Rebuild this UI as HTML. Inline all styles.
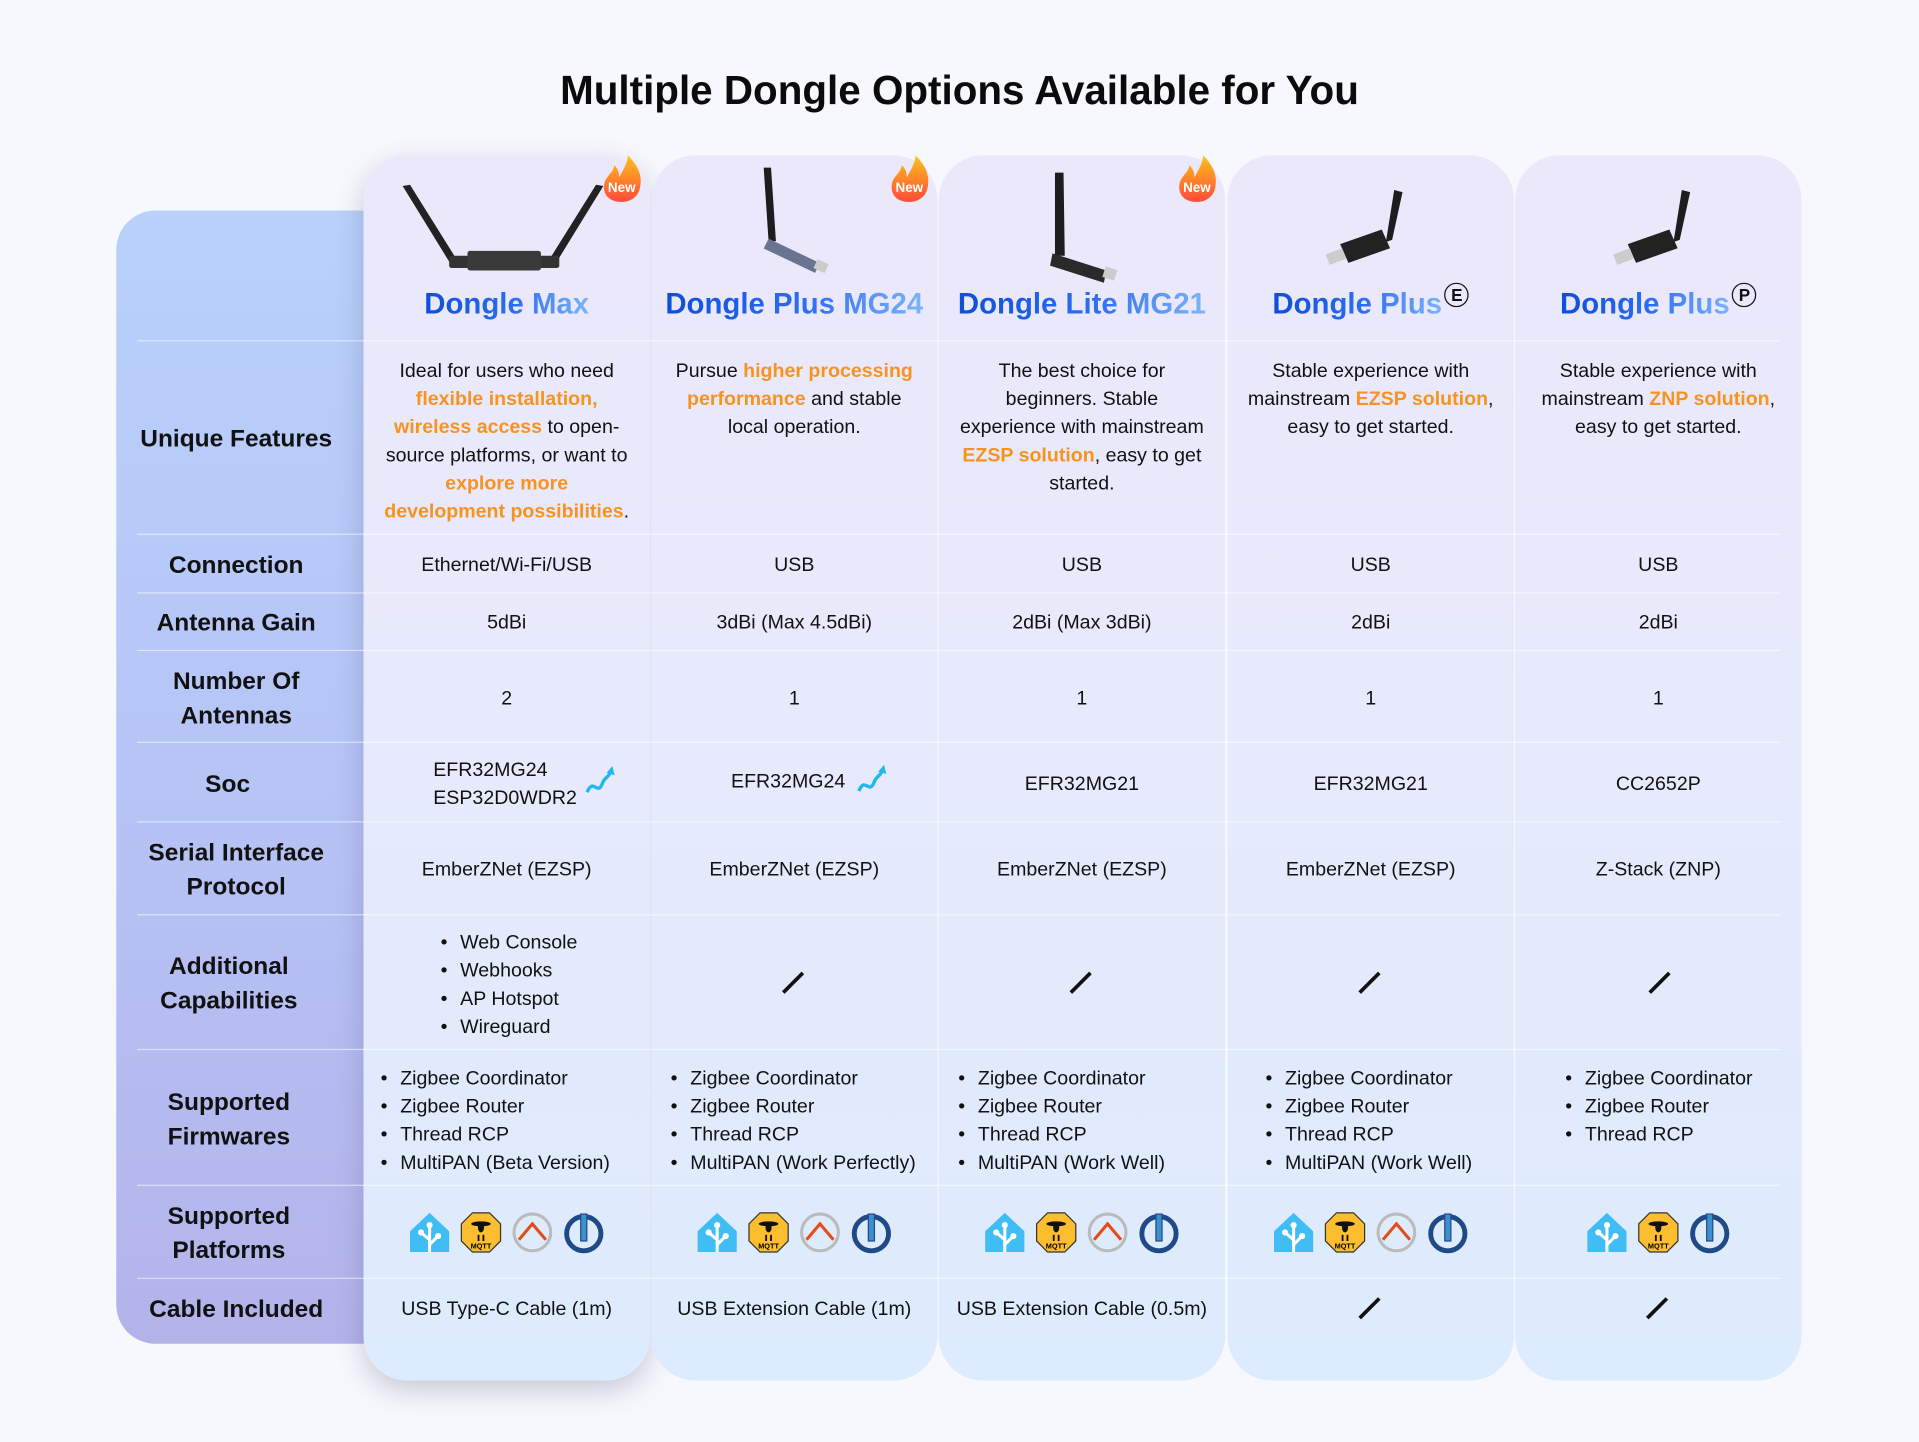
<!DOCTYPE html>
<html><head><meta charset="utf-8">
<style>
html,body{margin:0;padding:0;}
body{width:1919px;height:1442px;background:#f7f8fd;overflow:hidden;font-family:"Liberation Sans","DejaVu Sans",sans-serif;color:#111;}
#w{position:absolute;left:0;top:0;width:1568px;height:1178px;transform:scale(1.22385);transform-origin:0 0;}
.title{position:absolute;left:0;width:1568px;top:55px;text-align:center;font-weight:bold;font-size:33px;color:#0b0b0b;}
.lp{position:absolute;left:95px;top:172px;width:240px;height:926px;border-radius:32px;background:linear-gradient(180deg,#b9d1fb 0%,#b6c4f6 50%,#b3b3ea 100%);}
.lab{position:absolute;left:105px;width:176px;text-align:center;font-weight:bold;font-size:20px;line-height:28px;transform:translateY(-50%);}
.card{position:absolute;top:127px;width:234px;height:1001px;border-radius:36px;background:linear-gradient(180deg,#ece8fc 0%,#e6eafc 50%,#dcebfd 100%);}
.c1{box-shadow:0 8px 22px rgba(80,80,120,.28);}
.cell{position:absolute;left:0;width:100%;text-align:center;font-size:16px;line-height:23px;transform:translateY(-50%);margin-top:1px;}
.top{transform:none;}
.o{color:#f7931e;font-weight:bold;}
.nm{position:absolute;top:108px;left:0;width:100%;text-align:center;font-weight:bold;font-size:24px;}
.nm span{background:linear-gradient(90deg,#0f4fd8,#2f6ef0 55%,#7bb4fb);-webkit-background-clip:text;background-clip:text;color:transparent;}
.nm b{border:1.5px solid #111;border-radius:50%;display:inline-block;width:18px;height:18px;line-height:18px;color:#111;vertical-align:top;margin-left:2px;margin-top:-4px;font-size:14px;}
.ul{position:absolute;text-align:left;font-size:16px;line-height:23px;margin-top:2px;}
.ul div:before{content:"•";display:inline-block;width:16px;}
.sep{position:absolute;left:112px;width:1343px;height:1px;background:rgba(255,255,255,.55);}
.sl{position:absolute;width:24px;height:24px;}
.icons{position:absolute;top:862px;left:0;width:100%;text-align:center;height:36px;}
.icons svg{width:36px;height:36px;margin:0 3px;}
.badge{position:absolute;top:6px;right:4px;width:38px;height:40px;}
</style></head><body>
<svg width="0" height="0" style="position:absolute">
<defs>
<symbol id="ha" viewBox="0 0 36 36"><path d="M18 2 L34 17 V34 H2 V17 Z" fill="#41bdf5"/><path d="M18 34 V12 M18 24 L11 18 M18 28 L25 21" stroke="#fff" stroke-width="2.5" fill="none"/><circle cx="18" cy="12" r="2.5" fill="#fff"/><circle cx="11" cy="18" r="2.5" fill="#fff"/><circle cx="25" cy="21" r="2.5" fill="#fff"/></symbol>
<symbol id="mq" viewBox="0 0 36 36"><path d="M11 2 H25 L34 11 V25 L25 34 H11 L2 25 V11 Z" fill="#fcbd2f" stroke="#333" stroke-width="1"/><ellipse cx="18" cy="11" rx="8" ry="2" fill="#111"/><ellipse cx="18" cy="14" rx="2.5" ry="4" fill="#111"/><path d="M16 20 V25 M20 20 V25" stroke="#111" stroke-width="1.5"/><text x="18" y="31" font-size="6" font-weight="bold" text-anchor="middle" font-family="Liberation Sans">MQTT</text></symbol>
<symbol id="oh" viewBox="0 0 36 36"><circle cx="18" cy="18" r="15" fill="none" stroke="#bbb" stroke-width="2.5"/><path d="M7 24 L18 11 L29 24" fill="none" stroke="#e64a19" stroke-width="2.5"/></symbol>
<symbol id="io" viewBox="0 0 36 36"><circle cx="18" cy="19" r="14" fill="none" stroke="#1f4a86" stroke-width="4"/><rect x="15.5" y="3" width="5" height="22" fill="#3d8fd1" stroke="#1f4a86" stroke-width="1"/></symbol>
<symbol id="new" viewBox="0 0 38 40"><path d="M19 38 C7 38 3 30 5 22 C7 16 12 14 13 8 C17 12 17 16 17 18 C20 12 24 6 24 0 C32 8 36 16 34 26 C33 33 27 38 19 38Z" fill="url(#fg)"/><linearGradient id="fg" x1="0" y1="0" x2="0" y2="1"><stop offset="0" stop-color="#ffc21a"/><stop offset="1" stop-color="#ff4a3a"/></linearGradient><text x="19" y="30" font-size="11" font-weight="bold" fill="#fff" text-anchor="middle" font-family="Liberation Sans">New</text></symbol>
<symbol id="slash" viewBox="0 0 24 24"><line x1="4" y1="20" x2="20" y2="4" stroke="#111" stroke-width="3"/></symbol>
<symbol id="usb" viewBox="0 0 100 90"><path d="M72 10 L80 12 L70 58 L64 60Z" fill="#1d1d1d"/><path d="M20 62 L60 48 L68 66 L28 80Z" fill="#222"/><path d="M6 72 L22 66 L26 76 L10 82Z" fill="#ccc"/></symbol>
<symbol id="arrow" viewBox="0 0 30 30"><path d="M3 25 C8 12 12 28 16 18 C19 10 21 14 24 6" fill="none" stroke="#22b8f0" stroke-width="3"/><path d="M20 8 L25 2 L27 10Z" fill="#22b8f0"/></symbol>
</defs></svg>
<div id="w">
<div class="title">Multiple Dongle Options Available for You</div>
<div class="lp"></div>

<div class="card c1" style="left:297px">
<svg style="position:absolute;left:30px;top:20px" width="170" height="75" viewBox="0 0 170 75"><path d="M2 5 L8 4 L48 68 L42 70Z" fill="#222"/><path d="M166 5 L160 4 L120 68 L126 70Z" fill="#222"/><rect x="40" y="62" width="90" height="10" rx="2" fill="#333"/><rect x="55" y="58" width="60" height="16" rx="2" fill="#3a3a3a"/></svg>
<svg class="badge" style="top:0"><use href="#new"/></svg>
<div class="nm"><span>Dongle Max</span></div>
<div class="cell top" style="top:164px">Ideal for users who need<br><span class="o">flexible installation,<br>wireless access</span> to open-<br>source platforms, or want to<br><span class="o">explore more<br>development possibilities</span>.</div>
<div class="cell" style="top:334px">Ethernet/Wi-Fi/USB</div>
<div class="cell" style="top:381px">5dBi</div>
<div class="cell" style="top:443px">2</div>
<div class="cell" style="top:513px;text-align:left;left:57px">EFR32MG24<br>ESP32D0WDR2</div>
<svg style="position:absolute;left:180px;top:497px;width:28px;height:28px"><use href="#arrow"/></svg>
<div class="cell" style="top:583px">EmberZNet (EZSP)</div>
<div class="ul" style="top:630px;left:63px"><div>Web Console</div><div>Webhooks</div><div>AP Hotspot</div><div>Wireguard</div></div>
<div class="ul" style="top:741px;left:14px"><div>Zigbee Coordinator</div><div>Zigbee Router</div><div>Thread RCP</div><div>MultiPAN (Beta Version)</div></div>
<div class="icons"><svg><use href="#ha"/></svg><svg><use href="#mq"/></svg><svg><use href="#oh"/></svg><svg><use href="#io"/></svg></div>
<div class="cell" style="top:942px">USB Type-C Cable (1m)</div>
</div>

<div class="card" style="left:532px">
<svg style="position:absolute;left:78px;top:8px" width="80" height="90" viewBox="0 0 80 90"><path d="M14 2 L20 2 L24 62 L18 62Z" fill="#1d1d1d"/><path d="M18 60 L60 80 L56 88 L14 68Z" fill="#6a7390"/><rect x="56" y="78" width="10" height="8" fill="#ccc" transform="rotate(25 60 82)"/></svg>
<svg class="badge" style="top:0"><use href="#new"/></svg>
<div class="nm"><span>Dongle Plus MG24</span></div>
<div class="cell top" style="top:164px">Pursue <span class="o">higher processing<br>performance</span> and stable<br>local operation.</div>
<div class="cell" style="top:334px">USB</div>
<div class="cell" style="top:381px">3dBi (Max 4.5dBi)</div>
<div class="cell" style="top:443px">1</div>
<div class="cell" style="top:511px;left:-5px">EFR32MG24</div>
<svg style="position:absolute;left:167px;top:496px;width:28px;height:28px"><use href="#arrow"/></svg>
<div class="cell" style="top:583px">EmberZNet (EZSP)</div>
<svg class="sl" style="left:104px;top:664px"><use href="#slash"/></svg>
<div class="ul" style="top:741px;left:16px"><div>Zigbee Coordinator</div><div>Zigbee Router</div><div>Thread RCP</div><div>MultiPAN (Work Perfectly)</div></div>
<div class="icons"><svg><use href="#ha"/></svg><svg><use href="#mq"/></svg><svg><use href="#oh"/></svg><svg><use href="#io"/></svg></div>
<div class="cell" style="top:942px">USB Extension Cable (1m)</div>
</div>

<div class="card" style="left:767px">
<svg style="position:absolute;left:85px;top:12px" width="70" height="95" viewBox="0 0 70 95"><path d="M10 2 L17 2 L18 70 L10 70Z" fill="#1d1d1d"/><path d="M8 68 L52 82 L50 92 L6 78Z" fill="#2a2a2a"/><rect x="50" y="80" width="10" height="9" fill="#ccc" transform="rotate(18 55 84)"/></svg>
<svg class="badge" style="top:0"><use href="#new"/></svg>
<div class="nm"><span>Dongle Lite MG21</span></div>
<div class="cell top" style="top:164px">The best choice for<br>beginners. Stable<br>experience with mainstream<br><span class="o">EZSP solution</span>, easy to get<br>started.</div>
<div class="cell" style="top:334px">USB</div>
<div class="cell" style="top:381px">2dBi (Max 3dBi)</div>
<div class="cell" style="top:443px">1</div>
<div class="cell" style="top:513px">EFR32MG21</div>
<div class="cell" style="top:583px">EmberZNet (EZSP)</div>
<svg class="sl" style="left:104px;top:664px"><use href="#slash"/></svg>
<div class="ul" style="top:741px;left:16px"><div>Zigbee Coordinator</div><div>Zigbee Router</div><div>Thread RCP</div><div>MultiPAN (Work Well)</div></div>
<div class="icons"><svg><use href="#ha"/></svg><svg><use href="#mq"/></svg><svg><use href="#oh"/></svg><svg><use href="#io"/></svg></div>
<div class="cell" style="top:942px">USB Extension Cable (0.5m)</div>
</div>

<div class="card" style="left:1003px">
<svg style="position:absolute;left:75px;top:18px" width="85" height="80"><use href="#usb"/></svg>
<div class="nm"><span>Dongle Plus</span><b>E</b></div>
<div class="cell top" style="top:164px">Stable experience with<br>mainstream <span class="o">EZSP solution</span>,<br>easy to get started.</div>
<div class="cell" style="top:334px">USB</div>
<div class="cell" style="top:381px">2dBi</div>
<div class="cell" style="top:443px">1</div>
<div class="cell" style="top:513px">EFR32MG21</div>
<div class="cell" style="top:583px">EmberZNet (EZSP)</div>
<svg class="sl" style="left:104px;top:664px"><use href="#slash"/></svg>
<div class="ul" style="top:741px;left:31px"><div>Zigbee Coordinator</div><div>Zigbee Router</div><div>Thread RCP</div><div>MultiPAN (Work Well)</div></div>
<div class="icons"><svg><use href="#ha"/></svg><svg><use href="#mq"/></svg><svg><use href="#oh"/></svg><svg><use href="#io"/></svg></div>
<svg class="sl" style="left:104px;top:930px"><use href="#slash"/></svg>
</div>

<div class="card" style="left:1238px">
<svg style="position:absolute;left:75px;top:18px" width="85" height="80"><use href="#usb"/></svg>
<div class="nm"><span>Dongle Plus</span><b>P</b></div>
<div class="cell top" style="top:164px">Stable experience with<br>mainstream <span class="o">ZNP solution</span>,<br>easy to get started.</div>
<div class="cell" style="top:334px">USB</div>
<div class="cell" style="top:381px">2dBi</div>
<div class="cell" style="top:443px">1</div>
<div class="cell" style="top:513px">CC2652P</div>
<div class="cell" style="top:583px">Z-Stack (ZNP)</div>
<svg class="sl" style="left:106px;top:664px"><use href="#slash"/></svg>
<div class="ul" style="top:741px;left:41px"><div>Zigbee Coordinator</div><div>Zigbee Router</div><div>Thread RCP</div></div>
<div class="icons"><svg><use href="#ha"/></svg><svg><use href="#mq"/></svg><svg><use href="#io"/></svg></div>
<svg class="sl" style="left:104px;top:930px"><use href="#slash"/></svg>
</div>

<div class="sep" style="top:278px"></div><div class="sep" style="top:436px"></div><div class="sep" style="top:484px"></div><div class="sep" style="top:531px"></div><div class="sep" style="top:606px"></div><div class="sep" style="top:671px"></div><div class="sep" style="top:747px"></div><div class="sep" style="top:857px"></div><div class="sep" style="top:968px"></div><div class="sep" style="top:1044px"></div>

<div class="lab" style="top:359px">Unique Features</div>
<div class="lab" style="top:462px">Connection</div>
<div class="lab" style="top:509px">Antenna Gain</div>
<div class="lab" style="top:571px">Number Of<br>Antennas</div>
<div class="lab" style="top:641px;left:98px">Soc</div>
<div class="lab" style="top:711px">Serial Interface<br>Protocol</div>
<div class="lab" style="top:804px;left:99px">Additional<br>Capabilities</div>
<div class="lab" style="top:915px;left:99px">Supported<br>Firmwares</div>
<div class="lab" style="top:1008px;left:99px">Supported<br>Platforms</div>
<div class="lab" style="top:1070px">Cable Included</div>
</div>
</body></html>
